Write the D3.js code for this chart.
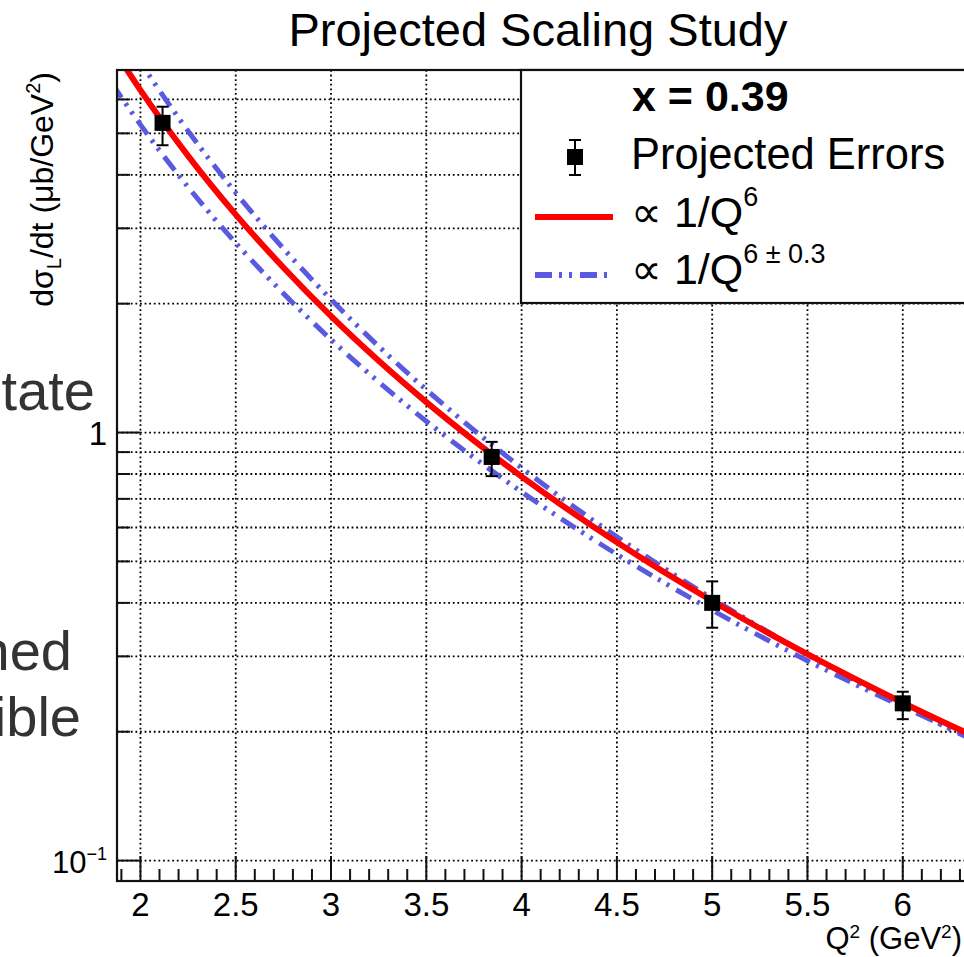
<!DOCTYPE html>
<html><head><meta charset="utf-8">
<script src="https://cdn.jsdelivr.net/npm/d3@7"></script>
<style>body{margin:0;background:#fff} svg{display:block} text{font-family:"Liberation Sans",Arial,Helvetica,sans-serif}</style>
</head><body><svg id="c" width="964" height="957"></svg>
<script>
// ---- data ----
const pointsQ2     = [2.116, 3.843, 5.0, 6.0];
const pointsVal    = [5.29, 0.877, 0.400, 0.233];
const pointsErrHi  = [5.77, 0.951, 0.449, 0.248];
const pointsErrLo  = [4.69, 0.791, 0.350, 0.214];

const curveQ2      = [1.85, 2.0, 2.25, 2.5, 2.75, 3.0, 3.25, 3.5, 3.75, 4.0, 4.5, 5.0, 5.5, 6.0, 6.4];
const curveCentral = [7.976, 6.31, 4.43, 3.23, 2.43, 1.87, 1.471, 1.178, 0.958, 0.789, 0.554, 0.404, 0.3035, 0.2338, 0.1927];
const curveUpper   = [9.380, 7.337, 5.063, 3.633, 2.691, 2.046, 1.590, 1.259, 1.013, 0.8267, 0.5704, 0.4093, 0.3032, 0.2304, 0.1881];
const curveLower   = [6.541, 5.239, 3.745, 2.773, 2.114, 1.649, 1.313, 1.063, 0.8733, 0.7266, 0.5193, 0.3847, 0.2931, 0.2288, 0.1903];

const xTickValues  = [2, 2.5, 3, 3.5, 4, 4.5, 5, 5.5, 6];
const xTickLabels  = ["2", "2.5", "3", "3.5", "4", "4.5", "5", "5.5", "6"];
const xMinorTicks  = [1.9,2.1,2.2,2.3,2.4,2.6,2.7,2.8,2.9,3.1,3.2,3.3,3.4,3.6,3.7,3.8,3.9,4.1,4.2,4.3,4.4,4.6,4.7,4.8,4.9,5.1,5.2,5.3,5.4,5.6,5.7,5.8,5.9,6.1,6.2,6.3];
const yMajorTicks  = [0.1, 1];
const yMinorTicks  = [0.2, 0.3, 0.4, 0.5, 0.6, 0.7, 0.8, 0.9, 2, 3, 4, 5, 6];
const yGridValues  = [0.1, 0.2, 0.3, 0.4, 0.5, 0.6, 0.7, 0.8, 0.9, 1, 2, 3, 4, 5, 6];

const svg = d3.select("#c");

// background slide text peeking out on the left
const bg = svg.append("g").attr("fill", "#333").attr("font-size", 56).attr("text-anchor", "end");
bg.append("text").attr("x", 95).attr("y", 410).text("tate");
bg.append("text").attr("x", 72).attr("y", 670).text("hed");
bg.append("text").attr("x", 81).attr("y", 736).text("ible");

// scales
const x = d3.scaleLinear().domain([1.877, 6.4]).range([117, 979]);
const y = d3.scaleLog().domain([0.0896, 7.03]).range([881, 70]);
const L = 117, R = 979, T = 70, B = 881;

// title
svg.append("text").attr("x", 538).attr("y", 46).attr("text-anchor", "middle")
  .attr("font-size", 47).text("Projected Scaling Study");

// grid
const grid = svg.append("g").attr("stroke", "#000").attr("stroke-width", 1.8).attr("stroke-dasharray", "1.8,2.8");
grid.selectAll("line.v").data(xTickValues).join("line")
  .attr("x1", d => x(d)).attr("x2", d => x(d)).attr("y1", T).attr("y2", B);
grid.selectAll("line.h").data(yGridValues).join("line")
  .attr("y1", d => y(d)).attr("y2", d => y(d)).attr("x1", L).attr("x2", R);

// clip
svg.append("clipPath").attr("id", "clip").append("rect").attr("x", L).attr("y", T).attr("width", R - L).attr("height", B - T);
const plot = svg.append("g").attr("clip-path", "url(#clip)");

const line = d3.line().x(d => x(d[0])).y(d => y(d[1])).curve(d3.curveMonotoneX);
const blue = "#5a5ae0";
[curveUpper, curveLower].forEach(arr => {
  plot.append("path").datum(curveQ2.map((q, i) => [q, arr[i]]))
    .attr("d", line).attr("fill", "none").attr("stroke", blue).attr("stroke-width", 5)
    .attr("stroke-dasharray", "17,7,3,7,3,8");
});
plot.append("path").datum(curveQ2.map((q, i) => [q, curveCentral[i]]))
  .attr("d", line).attr("fill", "none").attr("stroke", "#ff0000").attr("stroke-width", 6);

// points with error bars
const pts = plot.append("g");
pointsQ2.forEach((q, i) => {
  const g = pts.append("g").attr("stroke", "#000").attr("stroke-width", 2);
  g.append("line").attr("x1", x(q)).attr("x2", x(q)).attr("y1", y(pointsErrHi[i])).attr("y2", y(pointsErrLo[i]));
  [pointsErrHi[i], pointsErrLo[i]].forEach(v => g.append("line")
    .attr("x1", x(q) - 6).attr("x2", x(q) + 6).attr("y1", y(v)).attr("y2", y(v)));
  pts.append("rect").attr("x", x(q) - 8).attr("y", y(pointsVal[i]) - 8).attr("width", 16).attr("height", 16).attr("fill", "#000");
});

// frame
svg.append("rect").attr("x", L).attr("y", T).attr("width", R - L).attr("height", B - T)
  .attr("fill", "none").attr("stroke", "#111").attr("stroke-width", 2.2);

// x axis ticks
const xa = svg.append("g").attr("stroke", "#111").attr("stroke-width", 2);
xa.selectAll("line.maj").data(xTickValues).join("line")
  .attr("x1", d => x(d)).attr("x2", d => x(d)).attr("y1", B).attr("y2", B - 25);
xa.selectAll("line.min").data(xMinorTicks).join("line")
  .attr("x1", d => x(d)).attr("x2", d => x(d)).attr("y1", B).attr("y2", B - 12);
svg.append("g").attr("font-size", 33).attr("text-anchor", "middle")
  .selectAll("text").data(xTickValues).join("text")
  .attr("x", d => x(d)).attr("y", 916).text((d, i) => xTickLabels[i]);

// y axis ticks
const ya = svg.append("g").attr("stroke", "#111").attr("stroke-width", 2);
ya.selectAll("line.maj").data(yMajorTicks).join("line")
  .attr("y1", d => y(d)).attr("y2", d => y(d)).attr("x1", L).attr("x2", L + 23);
ya.selectAll("line.min").data(yMinorTicks).join("line")
  .attr("y1", d => y(d)).attr("y2", d => y(d)).attr("x1", L).attr("x2", L + 13);
svg.append("text").attr("x", 107).attr("y", y(1) + 12).attr("text-anchor", "end").attr("font-size", 33).text("1");
const t10 = svg.append("text").attr("x", 107).attr("y", y(0.1) + 12).attr("text-anchor", "end").attr("font-size", 31);
t10.append("tspan").text("10");
t10.append("tspan").attr("font-size", 18).attr("dy", -13).text("\u22121");

// axis titles
const yl = svg.append("text").attr("transform", "translate(53,72) rotate(-90)").attr("text-anchor", "end").attr("font-size", 32);
yl.append("tspan").text("d\u03c3");
yl.append("tspan").attr("font-size", 20).attr("dy", 8).text("L");
yl.append("tspan").attr("dy", -8).text("/dt (\u03bcb/GeV");
yl.append("tspan").attr("font-size", 20).attr("dy", -13).text("2");
yl.append("tspan").attr("dy", 13).text(")");

const xl = svg.append("text").attr("x", 962).attr("y", 949).attr("text-anchor", "end").attr("font-size", 31);
xl.append("tspan").text("Q");
xl.append("tspan").attr("font-size", 19).attr("dy", -11).text("2");
xl.append("tspan").attr("dy", 11).text(" (GeV");
xl.append("tspan").attr("font-size", 19).attr("dy", -11).text("2");
xl.append("tspan").attr("dy", 11).text(")");

// legend
const lg = svg.append("g");
lg.append("rect").attr("x", 521).attr("y", T).attr("width", R - 521).attr("height", 233)
  .attr("fill", "#fff").attr("stroke", "#111").attr("stroke-width", 2.2);
lg.append("text").attr("x", 632).attr("y", 111).attr("font-size", 43).attr("font-weight", "bold").text("x = 0.39");
const lm = lg.append("g").attr("stroke", "#000").attr("stroke-width", 2);
lm.append("line").attr("x1", 575).attr("x2", 575).attr("y1", 140).attr("y2", 175);
lm.append("line").attr("x1", 569).attr("x2", 581).attr("y1", 140).attr("y2", 140);
lm.append("line").attr("x1", 569).attr("x2", 581).attr("y1", 175).attr("y2", 175);
lg.append("rect").attr("x", 567).attr("y", 149).attr("width", 16).attr("height", 16).attr("fill", "#000");
lg.append("text").attr("x", 631).attr("y", 169).attr("font-size", 43.5).text("Projected Errors");
lg.append("line").attr("x1", 535).attr("x2", 613).attr("y1", 217).attr("y2", 217).attr("stroke", "#ff0000").attr("stroke-width", 6);
const e1 = lg.append("text").attr("x", 631).attr("y", 227).attr("font-size", 43);
e1.append("tspan").text("\u221d 1/Q");
e1.append("tspan").attr("font-size", 27).attr("dy", -21).text("6");
lg.append("line").attr("x1", 535).attr("x2", 613).attr("y1", 275).attr("y2", 275).attr("stroke", blue).attr("stroke-width", 6)
  .attr("stroke-dasharray", "17,7,3,7,3,8");
const e2 = lg.append("text").attr("x", 631).attr("y", 284).attr("font-size", 43);
e2.append("tspan").text("\u221d 1/Q");
e2.append("tspan").attr("font-size", 27).attr("dy", -21).text("6 \u00b1 0.3");
</script></body></html>
